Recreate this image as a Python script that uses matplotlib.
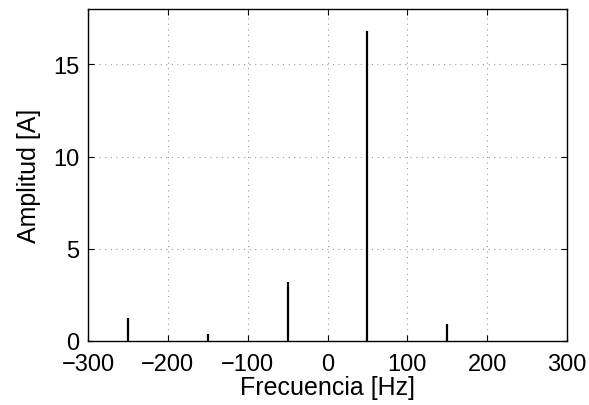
import matplotlib
matplotlib.use("Agg")
import matplotlib.pyplot as plt

freqs = [-250, -150, -50, 50, 150]
amps = [1.25, 0.4, 3.2, 16.8, 0.9]
xticks = [-300, -200, -100, 0, 100, 200, 300]
yticks = [0, 5, 10, 15]

plt.rcParams['font.family'] = ['Liberation Sans', 'DejaVu Sans']
plt.rcParams['axes.unicode_minus'] = True

fig = plt.figure(figsize=(5.89, 4.06), dpi=100)
ax = fig.add_axes([88/589, 1 - 342/406, (567-88)/589, (342-10)/406])
ax.vlines(freqs, 0, amps, colors='black', linewidth=1.6)
ax.set_xlim(-300, 300)
ax.set_ylim(0, 18)
ax.set_xticks(xticks)
ax.set_yticks(yticks)
ax.grid(True, linestyle=(0, (1, 4)), color='#999999', linewidth=0.8)
ax.tick_params(direction='in', top=True, right=True, labelsize=17, length=4)
ax.tick_params(axis='x', pad=9)
ax.tick_params(axis='y', pad=6)
for s in ax.spines.values():
    s.set_linewidth(1.0)
ax.set_xlabel('Frecuencia [Hz]', fontsize=18, labelpad=0)
ax.set_ylabel('Amplitud [A]', fontsize=18, labelpad=9)
fig.savefig('out.png', dpi=100)
